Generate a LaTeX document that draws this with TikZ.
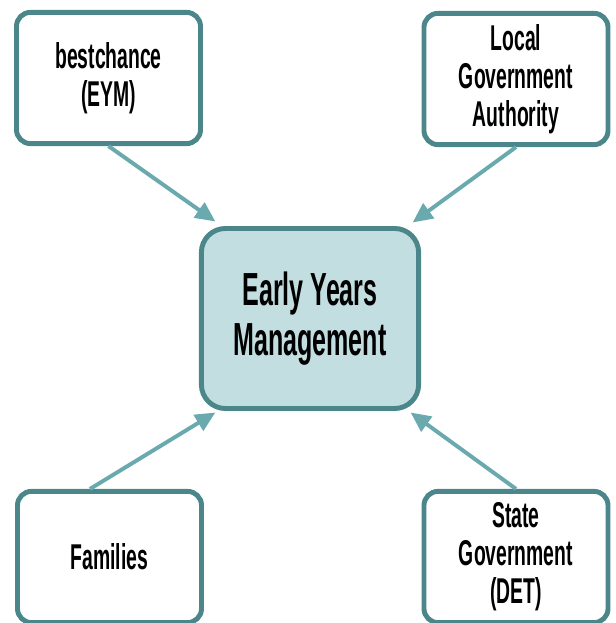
\documentclass[tikz,border=0pt]{standalone}
\usepackage{fontspec}
\usepackage{tikz}
\usetikzlibrary{arrows.meta,calc}
\newfontfamily\condfont{Liberation Sans}[FakeStretch=0.54]
\definecolor{boxline}{HTML}{4A868A}
\definecolor{arrline}{HTML}{6AAAAE}
\definecolor{ctrfill}{HTML}{C2DEE0}

\begin{document}
\begin{tikzpicture}[x=0.025cm,y=-0.025cm,
  agency/.style={draw=boxline, line width=3.5pt, rounded corners=0.35cm, fill=white,
    align=center, font=\condfont\bfseries\fontsize{25.5}{27}\selectfont,
    minimum width=4.6cm, minimum height=3.28cm, inner sep=0pt},
  hub/.style={draw=boxline, line width=3.5pt, rounded corners=0.6cm, fill=ctrfill,
    align=center, font=\condfont\bfseries\fontsize{33}{35.6}\selectfont,
    minimum width=5.43cm, minimum height=4.5cm, inner sep=0pt},
  feed/.style={draw=arrline, line width=2.8pt, -{Triangle[length=0.5cm,width=0.45cm]}}]
\useasboundingbox (0,0) rectangle (616,623);
\node[hub] (eym) at (310,318.5) {Early Years\\Management};
\node[agency] (best) at (108.5,78) {bestchance\\(EYM)};
\node[agency] (lga) at (516,79) {Local\\Government\\Authority};
\node[agency] (fam) at (109.5,557) {Families};
\node[agency] (det) at (516,557) {State\\Government\\(DET)};
% arrows into the hub
\coordinate (inBest) at ($(eym.north west)+(16.5,-4.5)$);
\coordinate (inLga) at ($(eym.north east)+(-8.5,-3.5)$);
\coordinate (inFam) at ($(eym.south west)+(16.5,1.5)$);
\coordinate (inDet) at ($(eym.south east)+(-10.5,1.5)$);
\coordinate (outFam) at ($(fam.north)+(-19.5,0)$);
\draw[feed] (best.south) -- (inBest);
\draw[feed] (lga.south) -- (inLga);
\draw[feed] (outFam) -- (inFam);
\draw[feed] (det.north) -- (inDet);
\end{tikzpicture}
\end{document}
